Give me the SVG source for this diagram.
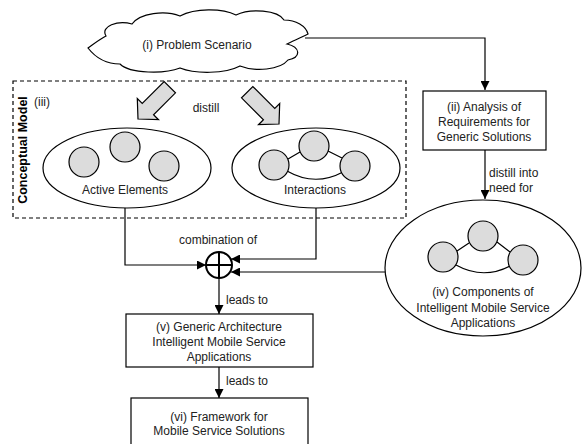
<svg xmlns="http://www.w3.org/2000/svg" width="582" height="444" viewBox="0 0 582 444">
  <defs>
    <style>
      .line { fill: none; stroke: #000; stroke-width: 1.2; }
      .shape { fill: #fff; stroke: #000; stroke-width: 1.2; }
      .ball { fill: #dcdcdc; stroke: #000; stroke-width: 1.2; }
      .block { fill: #dcdcdc; stroke: #000; stroke-width: 1.2; stroke-linejoin: miter; }
      .dash { fill: none; stroke: #000; stroke-width: 1.2; stroke-dasharray: 4 3; }
      text { font-family: "Liberation Sans", Arial, sans-serif; font-size: 12px; fill: #222; }
      .c { text-anchor: middle; }
      .bold { font-weight: bold; font-size: 12.5px; fill: #000; }
    </style>
    <marker id="ah" viewBox="0 0 10 10" refX="10" refY="5" markerWidth="10" markerHeight="9" markerUnits="userSpaceOnUse" orient="auto">
      <path d="M0,0 L10,5 L0,10 Z" fill="#000"/>
    </marker>
    <polygon id="fat" points="0,0 -14,-15 -14,-8 -45,-8 -45,8 -14,8 -14,15"/>
  </defs>

  <!-- (i) problem scenario cloud -->
  <g id="scenario">
    <path class="shape" d="M88,48 C95,43 100,39 106,36 C100,26 118,20 132,24 C140,13 165,10 180,16 C195,8 222,8 236,15 C250,8 278,10 284,20 C296,20 306,26 308,34 C300,38 293,41 287,44 C300,47 302,57 288,60 C280,70 255,72 240,66 C225,74 195,74 180,68 C165,74 130,74 120,64 C105,64 95,57 88,48 Z"/>
    <text class="c" x="197" y="49">(i) Problem Scenario</text>
  </g>

  <!-- (iii) conceptual model frame -->
  <g id="conceptual-model">
    <rect class="dash" x="13" y="81" width="393" height="137"/>
    <text class="bold c" transform="translate(27,150) rotate(-90)">Conceptual Model</text>
    <text x="34" y="106">(iii)</text>
    <use href="#fat" class="block" transform="translate(138,119) rotate(135)"/>
    <use href="#fat" class="block" transform="translate(279,124) rotate(45)"/>
    <text class="c" x="206" y="112">distill</text>
  </g>

  <g id="active-elements">
    <ellipse class="shape" cx="127" cy="168" rx="84" ry="40"/>
    <circle class="ball" cx="84" cy="162" r="15"/>
    <circle class="ball" cx="125" cy="147" r="15"/>
    <circle class="ball" cx="164" cy="166" r="15"/>
    <text class="c" x="125" y="194">Active Elements</text>
  </g>

  <g id="interactions">
    <ellipse class="shape" cx="316" cy="168" rx="84" ry="40"/>
    <path class="line" d="M288,159 L300,152 M328,151 L342,158 M287,171 Q315,187 343,172"/>
    <circle class="ball" cx="274" cy="165" r="15"/>
    <circle class="ball" cx="314" cy="146" r="15"/>
    <circle class="ball" cx="355" cy="166" r="15"/>
    <text class="c" x="315" y="194">Interactions</text>
  </g>

  <!-- (ii) analysis -->
  <g id="analysis">
    <rect class="shape" x="423" y="91" width="123" height="59"/>
    <text class="c" x="484" y="111">(ii) Analysis of</text>
    <text class="c" x="484" y="126">Requirements for</text>
    <text class="c" x="484" y="141">Generic Solutions</text>
  </g>

  <!-- (iv) components -->
  <g id="components">
    <ellipse class="shape" cx="483" cy="268" rx="98" ry="68"/>
    <path class="line" d="M457,251 L469,243 M497,242 L510,252 M456,265 Q483,280 510,266"/>
    <circle class="ball" cx="443" cy="257" r="15"/>
    <circle class="ball" cx="483" cy="236" r="15"/>
    <circle class="ball" cx="523" cy="260" r="15"/>
    <text class="c" x="483" y="296">(iv) Components of</text>
    <text class="c" x="483" y="312">Intelligent Mobile Service</text>
    <text class="c" x="483" y="327">Applications</text>
  </g>

  <!-- combination operator -->
  <g id="combine">
    <circle cx="219" cy="265" r="13" fill="#fff" stroke="#000" stroke-width="2"/>
    <path d="M206,265 H232 M219,252 V278" stroke="#000" stroke-width="2"/>
    <text class="c" x="218" y="244">combination of</text>
  </g>

  <!-- (v) architecture -->
  <g id="architecture">
    <rect class="shape" x="126" y="314" width="187" height="53"/>
    <text class="c" x="219" y="331">(v) Generic Architecture</text>
    <text class="c" x="219" y="346">Intelligent Mobile Service</text>
    <text class="c" x="219" y="361">Applications</text>
  </g>

  <!-- (vi) framework -->
  <g id="framework">
    <rect class="shape" x="131" y="398" width="177" height="50"/>
    <text class="c" x="219" y="421">(vi) Framework for</text>
    <text class="c" x="219" y="435">Mobile Service Solutions</text>
  </g>

  <g id="connectors">
    <path class="line" d="M305,38 H485 V90" marker-end="url(#ah)"/>
    <path class="line" d="M485,150 V199" marker-end="url(#ah)"/>
    <path class="line" d="M125,208 V265 H206" marker-end="url(#ah)"/>
    <path class="line" d="M316,208 V259 H231" marker-end="url(#ah)"/>
    <path class="line" d="M385,272 H231" marker-end="url(#ah)"/>
    <path class="line" d="M219,278 V314" marker-end="url(#ah)"/>
    <path class="line" d="M219,367 V398" marker-end="url(#ah)"/>
    <text x="489" y="177">distill into</text>
    <text x="489" y="192">need for</text>
    <text x="226" y="304">leads to</text>
    <text x="226" y="385">leads to</text>
  </g>
</svg>
